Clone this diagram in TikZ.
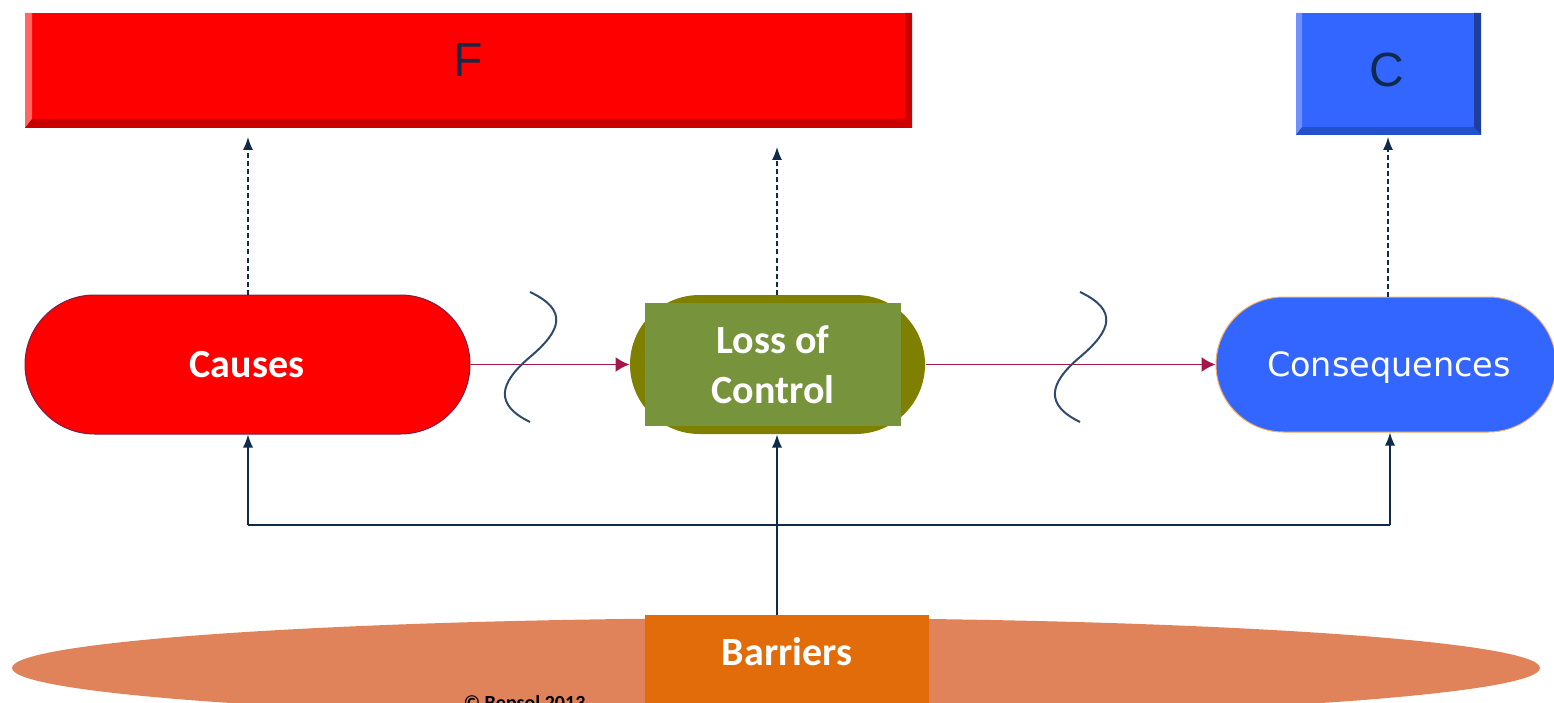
\documentclass[tikz,border=0pt]{standalone}
\usepackage{fontspec}
\setmainfont{Carlito}
\newfontfamily\arialfont{Liberation Sans}
\newfontfamily\verdfont{DejaVu Sans}
\usetikzlibrary{arrows.meta,shapes.misc}
\definecolor{fred}{HTML}{FF0000}
\definecolor{fredlight}{HTML}{FF6666}
\definecolor{freddark}{HTML}{C80000}
\definecolor{cblue}{HTML}{3366FF}
\definecolor{cbluelight}{HTML}{7090FF}
\definecolor{cbluedark}{HTML}{1F3F9F}
\definecolor{cbluebot}{HTML}{2550CC}
\definecolor{olive}{HTML}{808000}
\definecolor{lgreen}{HTML}{77933C}
\definecolor{navy}{HTML}{0F2A4A}
\definecolor{crimson}{HTML}{A5174A}
\definecolor{squig}{HTML}{2F4A6A}
\definecolor{barell}{HTML}{E0835B}
\definecolor{barbox}{HTML}{E36C0A}
\definecolor{pillborder}{HTML}{7A1F4A}
\definecolor{consborder}{HTML}{F0B060}
\tikzset{
  pill/.style={rounded rectangle, inner sep=0pt, line width=1pt},
  lbl/.style={text=white, font=\fontsize{40}{50}\selectfont\bfseries, align=center},
  flow/.style={crimson, line width=1.8pt, -{Latex[length=14pt,width=15pt]}},
  link/.style={navy, line width=1.4pt, -{Latex[length=13pt,width=10pt]}},
  dlink/.style={link, dash pattern=on 5pt off 3pt},
  wave/.style={squig, line width=2pt},
}
\begin{document}
\begin{tikzpicture}[x=1pt,y=-1pt]
\useasboundingbox (0,0) rectangle (1554,703);
\clip (0,0) rectangle (1554,703);
\fill[white] (0,0) rectangle (1554,703);

% F bar with bevelled edges
\fill[fred] (25,13) rectangle (912,128);
\fill[fredlight] (25,13) -- (32,13) -- (32,120) -- (25,128) -- cycle;
\fill[freddark] (25,128) -- (32,119) -- (905,119) -- (912,128) -- cycle;
\fill[freddark] (905,13) -- (912,13) -- (912,128) -- (905,119) -- cycle;
\node[text=navy, font=\arialfont\fontsize{48}{48}\selectfont] (F) at (468,60) {F};

% C box with bevelled edges
\fill[cblue] (1296,13) rectangle (1481,135);
\fill[cbluelight] (1296,13) -- (1302,13) -- (1302,128) -- (1296,135) -- cycle;
\fill[cbluebot] (1296,135) -- (1302,127) -- (1474,127) -- (1481,135) -- cycle;
\fill[cbluedark] (1474,13) -- (1481,13) -- (1481,135) -- (1474,127) -- cycle;
\node[text=navy, font=\arialfont\fontsize{48}{48}\selectfont] (C) at (1387,70) {C};

% barrier base
\fill[barell] (776,668) ellipse [x radius=764, y radius=50];
\node[fill=barbox, minimum width=284pt, minimum height=90pt, inner sep=0pt] (bar) at (787,660) {};
\node[lbl] at (787,652) {Barriers};
\node[anchor=base west, font=\fontsize{20}{20}\selectfont\bfseries] (copy) at (460,709) {© Bepsol 2013};

% main chain
\node[pill, fill=fred, draw=pillborder, minimum width=445pt, minimum height=139pt] (causes) at (247.5,364.5) {};
\node[lbl] at (247,365) {Causes};

\node[pill, fill=olive, minimum width=295pt, minimum height=139pt] (loc) at (777.5,364.5) {};
\node[fill=lgreen, minimum width=256pt, minimum height=123pt, inner sep=0pt] (locin) at (773,364.5) {};
\node[lbl] at (773,365) {Loss of\\Control};

\node[pill, fill=cblue, draw=consborder, minimum width=340pt, minimum height=135pt] (cons) at (1386,364.5) {};
\node[text=white, font=\verdfont\fontsize{33.5}{33.5}\selectfont] at (1389,368) {Consequences};

\draw[flow] (causes.east) -- (loc.west);
\draw[flow] (loc.east) -- (cons.west);

% breaks in the chain
\draw[wave] (530,292) .. controls (568,310) and (562,330) .. (530,357) .. controls (498,384) and (495,405) .. (530,422);
\draw[wave] (1080,292) .. controls (1118,310) and (1112,330) .. (1080,357) .. controls (1048,384) and (1045,405) .. (1080,422);

% dashed links up to F and C
\coordinate (fa) at (248,137);
\coordinate (fb) at (777,147);
\coordinate (ca) at (1388,137);
\draw[dlink] (causes.north -| fa) -- (fa);
\draw[dlink] (loc.north -| fb) -- (fb);
\draw[dlink] (cons.north -| ca) -- (ca);

% barrier links
\coordinate (jn) at (777,525);
\coordinate (jl) at (248,525);
\coordinate (jr) at (1390,525);
\draw[navy, line width=1.4pt] (bar.north -| jn) -- (jn);
\draw[navy, line width=1.4pt] (jl) -- (jr);
\draw[link] (jl) -- (jl |- causes.south);
\draw[link] (jn) -- (jn |- loc.south);
\draw[link] (jr) -- (jr |- cons.south);
\end{tikzpicture}
\end{document}
